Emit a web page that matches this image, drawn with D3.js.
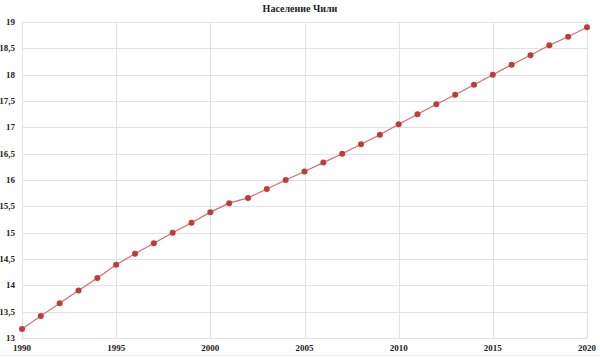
<!DOCTYPE html>
<html><head><meta charset="utf-8">
<script src="https://cdn.jsdelivr.net/npm/d3@7"></script>
<style>body{margin:0;background:#fff}svg{display:block}</style>
</head><body>
<svg id="c" width="600" height="357"></svg>
<script>
const title = "Население Чили";
const years = [1990,1991,1992,1993,1994,1995,1996,1997,1998,1999,2000,2001,2002,2003,2004,2005,2006,2007,2008,2009,2010,2011,2012,2013,2014,2015,2016,2017,2018,2019,2020];
const population = [13.17,13.42,13.66,13.90,14.14,14.39,14.60,14.80,15.00,15.19,15.39,15.56,15.66,15.83,16.00,16.16,16.33,16.50,16.68,16.86,17.06,17.25,17.44,17.62,17.81,18.00,18.19,18.37,18.56,18.72,18.90];
const xTicks = [1990,1995,2000,2005,2010,2015,2020];
const yTicks = [13,13.5,14,14.5,15,15.5,16,16.5,17,17.5,18,18.5,19];

const svg = d3.select("#c");
const m = {l:22, r:13, t:22, b:19};
const W = 600, H = 357;
const x = d3.scaleLinear().domain([1990,2020]).range([m.l, W-m.r]);
const y = d3.scaleLinear().domain([13,19]).range([H-m.b, m.t]);
const font = "'Liberation Serif', 'DejaVu Serif', serif";

// grid
svg.append("g").selectAll("line").data(yTicks).join("line")
  .attr("x1", x(1990)).attr("x2", x(2020))
  .attr("y1", d=>Math.round(y(d))+0.5).attr("y2", d=>Math.round(y(d))+0.5)
  .attr("stroke", "#e2e2e2").attr("stroke-width", 1);
svg.append("g").selectAll("line").data(xTicks).join("line")
  .attr("x1", d=>Math.round(x(d))+0.5).attr("x2", d=>Math.round(x(d))+0.5)
  .attr("y1", y(19)).attr("y2", y(13))
  .attr("stroke", "#e2e2e2").attr("stroke-width", 1);

// bottom faint line
svg.append("line").attr("x1", 0).attr("x2", W).attr("y1", 355.5).attr("y2", 355.5)
  .attr("stroke", "#f0f0f0");

// y labels
const fmt = d => String(d).replace(".", ",");
svg.append("g").selectAll("text").data(yTicks).join("text")
  .attr("x", 15).attr("y", d=>y(d)+3)
  .attr("text-anchor", "end")
  .attr("font-family", font).attr("font-weight", "bold").attr("font-size", 9)
  .attr("fill", "#222").text(fmt);

// x labels
svg.append("g").selectAll("text").data(xTicks).join("text")
  .attr("x", d=>x(d)).attr("y", 351)
  .attr("text-anchor", (d,i)=> i===0 ? "start" : (i===xTicks.length-1 ? "end" : "middle"))
  .attr("dx", (d,i)=> i===0 ? -9 : (i===xTicks.length-1 ? 9 : 0))
  .attr("font-family", font).attr("font-weight", "bold").attr("font-size", 9)
  .attr("fill", "#222").text(d=>d);

// title
svg.append("text").attr("x", 300).attr("y", 12).attr("text-anchor", "middle")
  .attr("font-family", font).attr("font-weight", "bold").attr("font-size", 10)
  .attr("fill", "#222").text(title);

const data = years.map((yr,i)=>({yr, v: population[i]}));
svg.append("path").datum(data)
  .attr("d", d3.line().x(d=>x(d.yr)).y(d=>y(d.v)))
  .attr("fill", "none").attr("stroke", "#d46a6a").attr("stroke-width", 1.2);
svg.append("g").selectAll("circle").data(data).join("circle")
  .attr("cx", d=>x(d.yr)).attr("cy", d=>y(d.v)).attr("r", 3)
  .attr("fill", "#c23b3b");
</script>
</body></html>
